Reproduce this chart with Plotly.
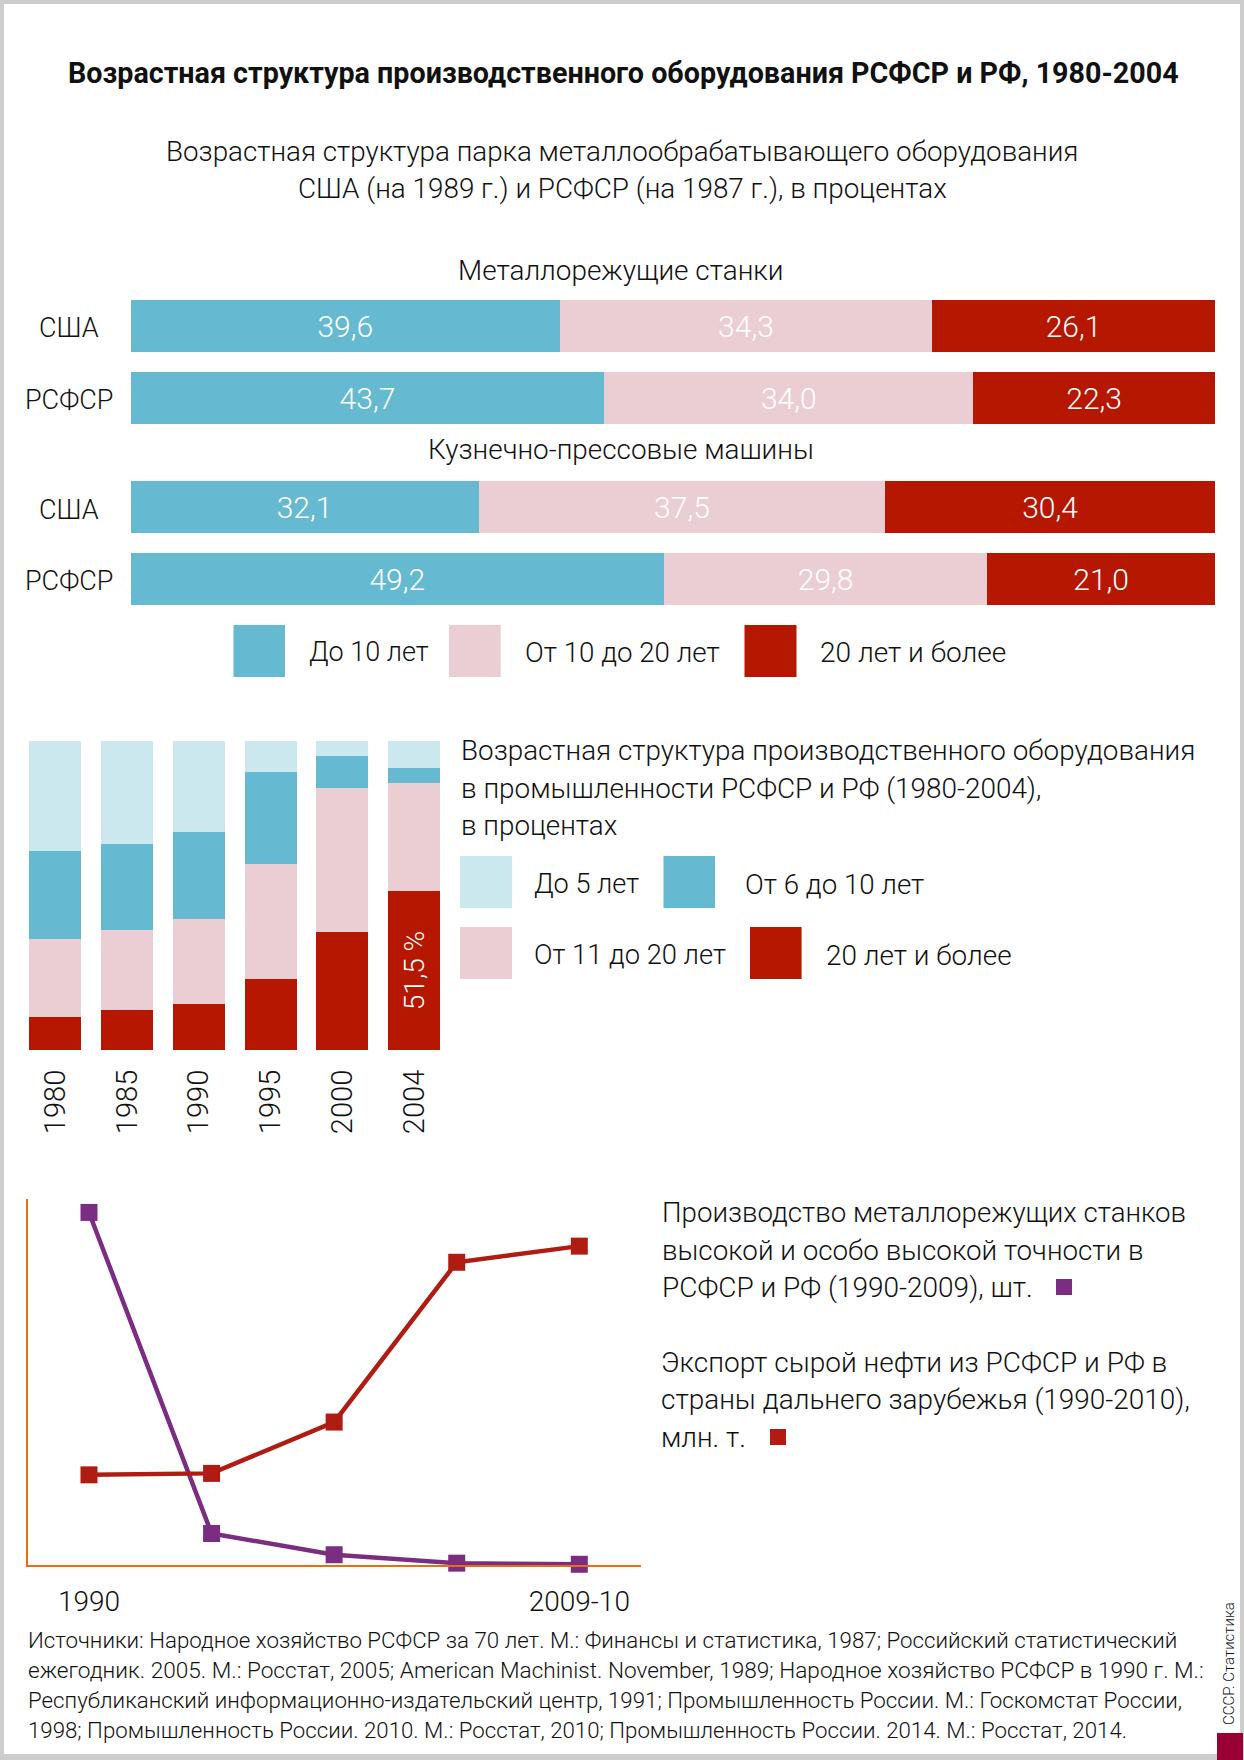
import plotly.graph_objects as go

W, H = 1244, 1760
FONT = "Roboto"
WEIGHT = 300
INK = "#111111"
BLUE, PINK, RED, LIGHT = "#65b9d0", "#ebcdd4", "#b51700", "#cbe8ee"
PURPLE, LINE_RED, ORANGE = "#7b2d82", "#b01c12", "#e8700a"

# Metal-cutting machines / forging machines (percent)
rows = ["США", "РСФСР"]
cut_young = [39.6, 43.7]
cut_mid = [34.3, 34.0]
cut_old = [26.1, 22.3]
forge_young = [32.1, 49.2]
forge_mid = [37.5, 29.8]
forge_old = [30.4, 21.0]

# Age structure by year (percent)
years = ["1980", "1985", "1990", "1995", "2000", "2004"]
age_old = [10.7, 12.8, 15.0, 23.1, 38.3, 51.5]
age_11_20 = [25.1, 25.9, 27.3, 37.0, 46.4, 34.8]
age_6_10 = [28.6, 28.1, 28.3, 29.9, 10.6, 5.0]
age_5 = [35.6, 33.2, 29.4, 10.0, 4.7, 8.7]
age_labels = ["", "", "", "", "", "51,5 %"]

# Lines (relative height on an unlabelled axis)
line_x = [1990, 1995, 2000, 2005, 2010]
machines = [96.2, 8.6, 2.8, 0.5, 0.2]
oil = [24.6, 25.0, 39.0, 82.6, 87.0]


def fx(x):
    return x / W


def fy(y):
    return 1 - y / H


def fmt(vals):
    return [f"{v:.1f}".replace(".", ",") for v in vals]


fig = go.Figure()


def hbar(vals, color, name, xa, ya):
    fig.add_trace(go.Bar(
        y=rows, x=vals, orientation="h", name=name, marker=dict(color=color, line=dict(width=0)),
        text=fmt(vals), textposition="inside", insidetextanchor="middle", textangle=0,
        constraintext="none", textfont=dict(family=FONT, size=30, color="white", weight=WEIGHT),
        xaxis=xa, yaxis=ya, showlegend=False))


for vals, color, name in [(cut_young, BLUE, "До 10 лет"), (cut_mid, PINK, "От 10 до 20 лет"), (cut_old, RED, "20 лет и более")]:
    hbar(vals, color, name, "x", "y")
for vals, color, name in [(forge_young, BLUE, "До 10 лет"), (forge_mid, PINK, "От 10 до 20 лет"), (forge_old, RED, "20 лет и более")]:
    hbar(vals, color, name, "x2", "y2")

for vals, color, name in [(age_old, RED, "20 лет и более"), (age_11_20, PINK, "От 11 до 20 лет"),
                          (age_6_10, BLUE, "От 6 до 10 лет"), (age_5, LIGHT, "До 5 лет")]:
    fig.add_trace(go.Bar(
        x=years, y=vals, name=name, marker=dict(color=color, line=dict(width=0)),
        text=age_labels if color == RED else None, textposition="inside", insidetextanchor="middle",
        textangle=-90, constraintext="none", textfont=dict(family=FONT, size=28, color="white", weight=WEIGHT),
        xaxis="x3", yaxis="y3", showlegend=False))

fig.add_trace(go.Scatter(x=line_x, y=machines, mode="lines+markers", name="Станки",
                         line=dict(color=PURPLE, width=4.5), marker=dict(symbol="square", size=17, color=PURPLE),
                         xaxis="x4", yaxis="y4", showlegend=False, cliponaxis=False))
fig.add_trace(go.Scatter(x=line_x, y=oil, mode="lines+markers", name="Нефть",
                         line=dict(color=LINE_RED, width=4.5), marker=dict(symbol="square", size=17, color=LINE_RED),
                         xaxis="x4", yaxis="y4", showlegend=False, cliponaxis=False))

hidden = dict(visible=False, fixedrange=True)
fig.update_layout(
    width=W, height=H, margin=dict(l=0, r=0, t=0, b=0), paper_bgcolor="white", plot_bgcolor="white",
    barmode="stack", bargap=0.275, showlegend=False, font=dict(family=FONT, color=INK),
    xaxis=dict(domain=[fx(130.5), fx(1215)], range=[0, 100], anchor="y", **hidden),
    yaxis=dict(domain=[fy(434), fy(290)], categoryorder="array", categoryarray=rows[::-1], anchor="x", **hidden),
    xaxis2=dict(domain=[fx(130.5), fx(1215)], range=[0, 100], anchor="y2", **hidden),
    yaxis2=dict(domain=[fy(615.2), fy(471.2)], categoryorder="array", categoryarray=rows[::-1], anchor="x2", **hidden),
    xaxis3=dict(domain=[fx(19.6), fx(450)], anchor="y3", type="category", showline=False, showgrid=False,
                zeroline=False, ticks="", tickangle=-90, ticklabelstandoff=13,
                tickfont=dict(family=FONT, size=29, color=INK, weight=WEIGHT), fixedrange=True),
    yaxis3=dict(domain=[fy(1050), fy(741)], range=[0, 100], anchor="x3", **hidden),
    xaxis4=dict(domain=[fx(27.7), fx(640.6)], range=[1987.5, 2012.5], anchor="y4", showline=True, linecolor=ORANGE,
                linewidth=2, showgrid=False, zeroline=False, ticks="", tickvals=[1990, 2010],
                ticktext=["1990", "2009-10"], ticklabelstandoff=10,
                tickfont=dict(family=FONT, size=28, color=INK, weight=WEIGHT), fixedrange=True),
    yaxis4=dict(domain=[fy(1565), fy(1198.5)], range=[0, 100], anchor="x4", showline=True, linecolor=ORANGE,
                linewidth=2, showgrid=False, zeroline=False, showticklabels=False, ticks="", fixedrange=True),
)

notes = []


def note(text, x, y, size=27.8, anchor="left", bold=False, angle=0, color=INK):
    notes.append(dict(text=f"<b>{text}</b>" if bold else text, x=fx(x), y=fy(y), xref="paper", yref="paper",
                      xanchor=anchor, yanchor="middle", showarrow=False, textangle=angle,
                      font=dict(family=FONT, size=size, color=color, weight=700 if bold else WEIGHT)))


note("Возрастная структура производственного оборудования РСФСР и РФ, 1980-2004", 623, 73.5, 28.7, "center", True)
note("Возрастная структура парка металлообрабатывающего оборудования", 622, 151.5, 27.75, "center")
note("США (на 1989 г.) и РСФСР (на 1987 г.), в процентах", 622, 188.5, 27.85, "center")
note("Металлорежущие станки", 621, 270.5, 27.9, "center")
note("Кузнечно-прессовые машины", 621, 450, 27.85, "center")
for label, y in [("США", 328), ("РСФСР", 400), ("США", 510), ("РСФСР", 581)]:
    note(label, 68.5, y, 27, "center")
note("До 10 лет", 307, 652, 27)
note("От 10 до 20 лет", 523, 652, 27.7)
note("20 лет и более", 818, 652, 28)
note("Возрастная структура производственного оборудования", 459, 750, 27.8)
note("в промышленности РСФСР и РФ (1980-2004),", 459, 788, 27.9)
note("в процентах", 459, 825, 27.8)
note("До 5 лет", 532, 884, 27.1)
note("От 6 до 10 лет", 743, 884, 27.7)
note("От 11 до 20 лет", 532, 955, 27.3)
note("20 лет и более", 824, 955, 27.9)
note("Производство металлорежущих станков", 660, 1212.5, 27.65)
note("высокой и особо высокой точности в", 660, 1250, 27.75)
note("РСФСР и РФ (1990-2009), шт.", 660, 1287, 28)
note("Экспорт сырой нефти из РСФСР и РФ в", 659, 1362, 28)
note("страны дальнего зарубежья (1990-2010),", 659, 1399, 27.95)
note("млн. т.", 659, 1437, 27.8)
note("Источники: Народное хозяйство РСФСР за 70 лет. М.: Финансы и статистика, 1987; Российский статистический", 26, 1640, 22.3)
note("ежегодник. 2005. М.: Росстат, 2005; American Machinist. November, 1989; Народное хозяйство РСФСР в 1990 г. М.:", 26, 1670.5, 22.6)
note("Республиканский информационно-издательский центр, 1991; Промышленность России. М.: Госкомстат России,", 26, 1700, 22.3)
note("1998; Промышленность России. 2010. М.: Росстат, 2010; Промышленность России. 2014. М.: Росстат, 2014.", 26, 1730, 22.25)
note("СССР. Статистика", 1229, 1664, 15, "center", angle=-90)
fig.update_layout(annotations=notes)


def rect(x0, y0, x1, y1, color):
    return dict(type="rect", xref="paper", yref="paper", x0=fx(x0), x1=fx(x1), y0=fy(y0), y1=fy(y1),
                fillcolor=color, line=dict(width=0), layer="below")


shapes = [rect(0, 0, W, 4, "#cdcdcd"), rect(0, 0, 4, H, "#cdcdcd"), rect(W - 4, 0, W, H, "#cdcdcd"),
          rect(0, H - 6, W, H, "#cdcdcd"), rect(1217, 1733, 1243, H, "#990033"),
          rect(233.5, 625, 285, 677, BLUE), rect(449, 625, 500.7, 677, PINK), rect(744.5, 625, 796.5, 677, RED),
          rect(460, 856, 512, 908, LIGHT), rect(663.5, 856, 715, 908, BLUE),
          rect(460, 927, 512, 979, PINK), rect(750, 927, 801.6, 979, RED),
          rect(1056, 1279, 1072, 1295, PURPLE), rect(770, 1429, 786, 1445, LINE_RED)]
fig.update_layout(shapes=shapes)

fig.write_html("out.html", config={"displayModeBar": False}, post_script="document.body.style.margin='0';")
